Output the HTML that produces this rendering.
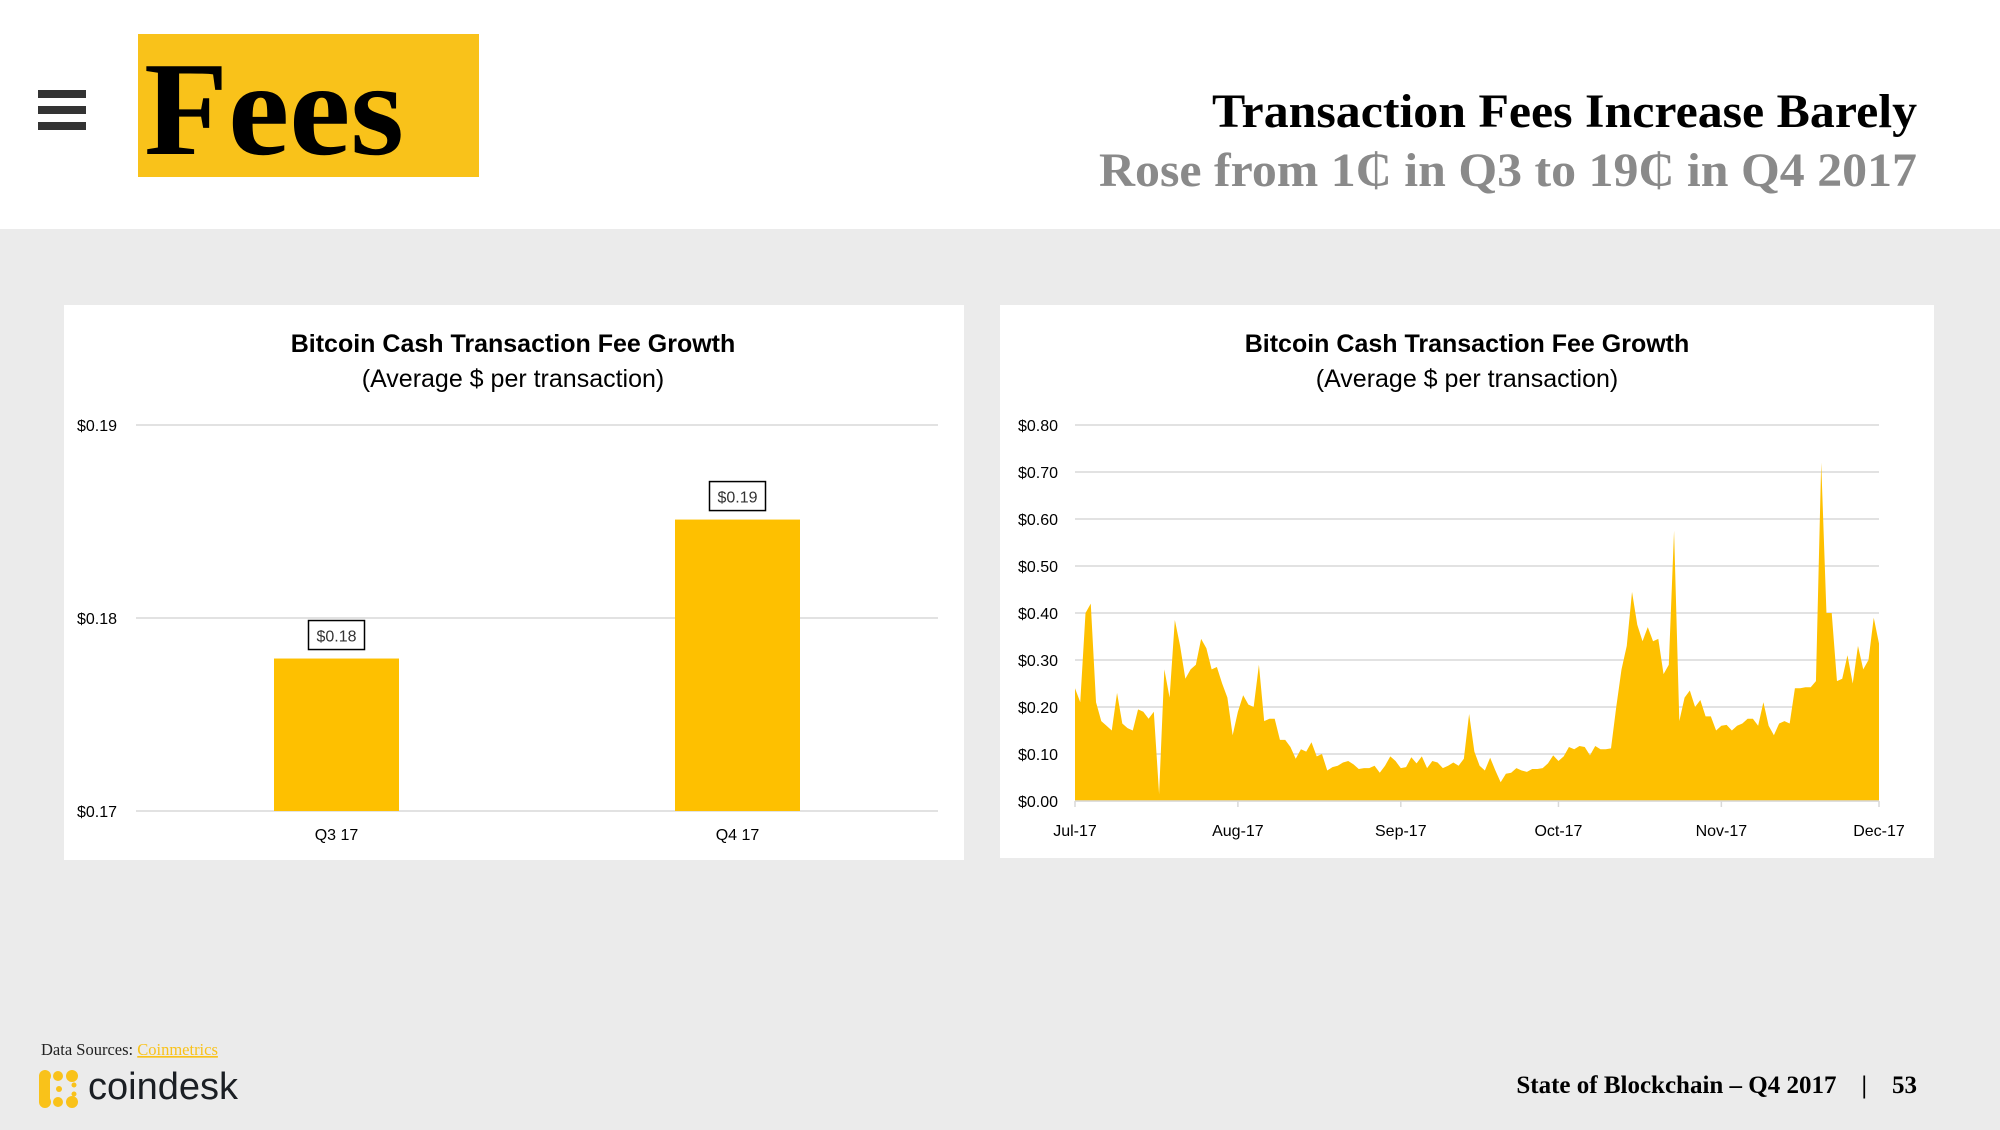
<!DOCTYPE html>
<html><head><meta charset="utf-8"><style>
html,body{margin:0;padding:0;}
body{width:2000px;height:1125px;overflow:hidden;background:#ebebeb;font-family:"Liberation Sans",sans-serif;}
</style></head><body>
<svg width="2000" height="1125" viewBox="0 0 2000 1125" xmlns="http://www.w3.org/2000/svg">
<rect x="0" y="0" width="2000" height="229" fill="#ffffff"/>
<g>
<rect x="38" y="90" width="48" height="8" fill="#333"/>
<rect x="38" y="106" width="48" height="8" fill="#333"/>
<rect x="38" y="122" width="48" height="8" fill="#333"/>
</g>
<rect x="138" y="34" width="341" height="143" fill="#f9c21a"/>
<text x="144" y="154" font-family="Liberation Serif,serif" font-weight="bold" font-size="134" fill="#000" textLength="260" lengthAdjust="spacingAndGlyphs">Fees</text>
<text x="1917" y="127" text-anchor="end" font-family="Liberation Serif,serif" font-weight="bold" font-size="48" fill="#000" textLength="705" lengthAdjust="spacingAndGlyphs">Transaction Fees Increase Barely</text>
<text x="1917" y="186" text-anchor="end" font-family="Liberation Serif,serif" font-weight="bold" font-size="48" fill="#8a8a8a" textLength="818" lengthAdjust="spacingAndGlyphs">Rose from 1₵ in Q3 to 19₵ in Q4 2017</text>

<rect x="64" y="305" width="900" height="555" fill="#fff"/>
<rect x="1000" y="305" width="934" height="553" fill="#fff"/>
<g id="left">
<text x="513" y="352" text-anchor="middle" font-weight="bold" font-size="25" fill="#000">Bitcoin Cash Transaction Fee Growth</text>
<text x="513" y="387" text-anchor="middle" font-size="25" fill="#000">(Average $ per transaction)</text>
</g>
<g id="right">
<text x="1467" y="352" text-anchor="middle" font-weight="bold" font-size="25" fill="#000">Bitcoin Cash Transaction Fee Growth</text>
<text x="1467" y="387" text-anchor="middle" font-size="25" fill="#000">(Average $ per transaction)</text>
</g>

<text x="41" y="1055" font-family="Liberation Serif,serif" font-size="16.5" fill="#222">Data Sources: <tspan fill="#f9c21a" text-decoration="underline">Coinmetrics</tspan></text>
<g fill="#f9c21a">
<circle cx="45" cy="1076" r="6"/><circle cx="58" cy="1076" r="5"/><circle cx="72" cy="1076" r="6"/>
<rect x="39" y="1076" width="11" height="26"/>
<circle cx="45" cy="1102" r="6"/><circle cx="58" cy="1102" r="5"/><circle cx="72" cy="1102" r="6"/>
<circle cx="59" cy="1089" r="3"/><circle cx="74" cy="1085" r="2.5"/><circle cx="74" cy="1094" r="2.5"/>
</g>
<text x="88" y="1099" font-size="38" fill="#1b1f24">coindesk</text>
<text x="1917" y="1093" text-anchor="end" font-family="Liberation Serif,serif" font-weight="bold" font-size="25" fill="#000" xml:space="preserve">State of Blockchain – Q4 2017    |    53</text>
</svg>
<script>
const NS='http://www.w3.org/2000/svg';
// ---- bar chart data ----
const barCategories=['Q3 17','Q4 17'];
const barValues=[0.1779,0.1851];
const barLabels=['$0.18','$0.19'];
const barTicks=[0.17,0.18,0.19];
const barTickLabels=['$0.17','$0.18','$0.19'];
// ---- area chart data (daily, Jul 1 - Dec 1 2017) ----
const areaValues=[0.24,0.21,0.40,0.42,0.21,0.17,0.16,0.15,0.23,0.165,0.155,0.15,0.195,0.19,0.175,0.19,0.015,0.28,0.22,0.385,0.33,0.26,0.28,0.29,0.345,0.325,0.28,0.285,0.25,0.22,0.14,0.19,0.225,0.205,0.2,0.29,0.17,0.175,0.175,0.13,0.13,0.115,0.09,0.11,0.105,0.125,0.095,0.1,0.065,0.072,0.075,0.082,0.085,0.078,0.068,0.07,0.07,0.075,0.06,0.075,0.095,0.085,0.07,0.072,0.093,0.08,0.095,0.07,0.085,0.082,0.07,0.075,0.082,0.075,0.09,0.185,0.105,0.075,0.065,0.092,0.065,0.04,0.058,0.06,0.07,0.065,0.062,0.068,0.068,0.07,0.08,0.097,0.085,0.095,0.115,0.11,0.117,0.115,0.097,0.117,0.11,0.11,0.112,0.2,0.28,0.33,0.445,0.375,0.34,0.37,0.34,0.345,0.27,0.29,0.575,0.17,0.22,0.235,0.2,0.215,0.18,0.18,0.15,0.16,0.162,0.15,0.16,0.165,0.175,0.175,0.16,0.21,0.16,0.14,0.165,0.17,0.165,0.24,0.24,0.242,0.242,0.255,0.72,0.4,0.4,0.255,0.26,0.31,0.25,0.33,0.28,0.3,0.39,0.335];
const areaTicks=[0,0.1,0.2,0.3,0.4,0.5,0.6,0.7,0.8];
const areaTickLabels=['$0.00','$0.10','$0.20','$0.30','$0.40','$0.50','$0.60','$0.70','$0.80'];
const monthLabels=['Jul-17','Aug-17','Sep-17','Oct-17','Nov-17','Dec-17'];
const monthDayIndex=[0,31,62,92,123,153];

function mk(tag,attrs,parent,text){const e=document.createElementNS(NS,tag);for(const k in attrs)e.setAttribute(k,attrs[k]);if(text!==undefined)e.textContent=text;parent.appendChild(e);return e;}

// bar chart
const L=document.getElementById('left');
const bx0=136,bx1=938,by0=811,by1=425;
const bY=v=>by0-(v-0.17)/(0.19-0.17)*(by0-by1);
const bandW=(bx1-bx0)/barCategories.length;
const bX=i=>bx0+bandW*(i+0.5);
barTicks.forEach((t,i)=>{
  const g=mk('line',{x1:bx0,x2:bx1,y1:bY(t),y2:bY(t),stroke:'#d9d9d9','stroke-width':1.5},L);
  
  
  const tl=mk('text',{x:77,y:bY(t)+6,'font-size':16,fill:'#000'},L,barTickLabels[i]);
  
  
});
barValues.forEach((v,i)=>{
  const w=125,cx=bX(i);
  const r=mk('rect',{x:cx-w/2,y:bY(v),width:w,height:by0-bY(v),fill:'#fec000'},L);
  
  
  const lb=mk('rect',{x:cx-28,y:bY(v)-38,width:56,height:29,fill:'#fff',stroke:'#000','stroke-width':1.5},L);
  
  
  const lt=mk('text',{x:cx,y:bY(v)-17,'text-anchor':'middle','font-size':16,fill:'#333'},L,barLabels[i]);
  
  
  const ct=mk('text',{x:cx,y:840,'text-anchor':'middle','font-size':16,fill:'#000'},L,barCategories[i]);
  
  
});

// area chart
const R=document.getElementById('right');
const ax0=1075,ax1=1879,ay0=801,ay1=425;
const aY=v=>ay0-v/0.8*(ay0-ay1);
const aX=d=>ax0+d/153*(ax1-ax0);
areaTicks.forEach((t,i)=>{
  const g=mk('line',{x1:ax0,x2:ax1,y1:aY(t),y2:aY(t),stroke:'#d9d9d9','stroke-width':1.5},R);
  
  
  const tl=mk('text',{x:1058,y:aY(t)+6,'text-anchor':'end','font-size':16,fill:'#000'},R,areaTickLabels[i]);
  
  
});
let d='M'+aX(0)+','+aY(0);
const step=153/(areaValues.length-1);
areaValues.forEach((v,i)=>{d+=' L'+aX(i*step).toFixed(2)+','+aY(v).toFixed(2);});
d+=' L'+aX((areaValues.length-1)*step)+','+aY(0)+' Z';
const area=mk('path',{d:d,fill:'#fec000'},R);


const ax=mk('line',{x1:ax0,x2:ax1,y1:ay0,y2:ay0,stroke:'#d9d9d9','stroke-width':1.5},R);


monthLabels.forEach((m,i)=>{
  const x=aX(monthDayIndex[i]);
  const tk=mk('line',{x1:x,x2:x,y1:ay0,y2:ay0+6,stroke:'#d9d9d9','stroke-width':1.5},R);
  
  
  const t=mk('text',{x:x,y:836,'text-anchor':'middle','font-size':16,fill:'#000'},R,m);
  
  
});
</script>
</body></html>
